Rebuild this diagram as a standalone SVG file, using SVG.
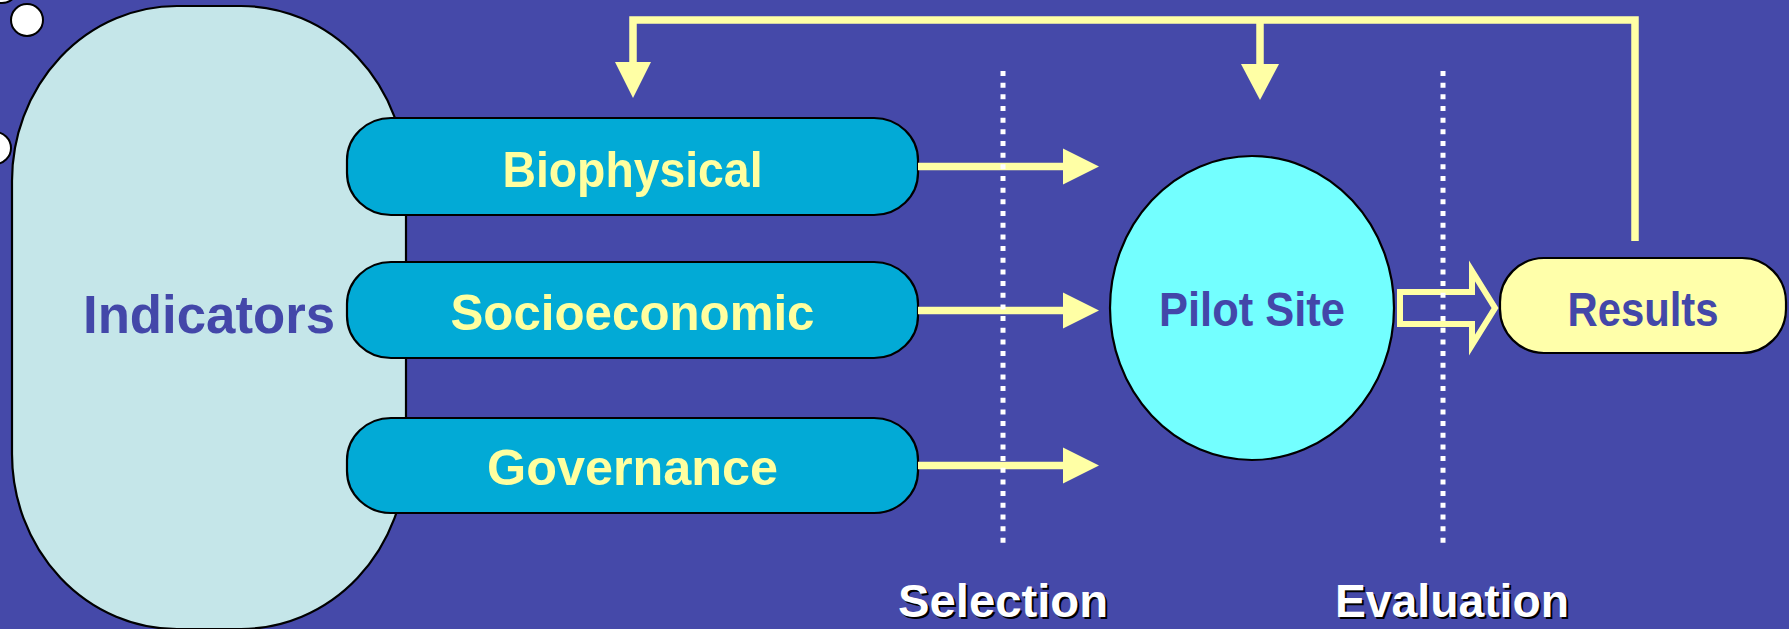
<svg xmlns="http://www.w3.org/2000/svg" width="1789" height="629" viewBox="0 0 1789 629">
  <style>
    .bg { fill: #4549A9; }
    .outline { stroke: #000; stroke-width: 2.2; }
    .dot { fill: #fff; stroke: #000; stroke-width: 2; }
    .box { fill: #02AAD6; stroke: #000; stroke-width: 2.2; }
    .boxtxt { font-family: "Liberation Sans", Arial, sans-serif; font-weight: bold; font-size: 50px; fill: #FFFFA0; text-anchor: middle; }
    .darktxt { font-family: "Liberation Sans", Arial, sans-serif; font-weight: bold; fill: #4347A9; text-anchor: middle; }
    .line { fill: none; stroke: #FFFFA5; stroke-width: 7.5; stroke-linejoin: miter; stroke-linecap: butt; }
    .head { fill: #FFFFA5; }
    .sep { stroke: #fff; stroke-width: 5; stroke-dasharray: 5 6.67; }
    .phase { font-family: "Liberation Sans", Arial, sans-serif; font-weight: bold; font-size: 47px; text-anchor: middle; }
  </style>
  <rect class="bg" x="0" y="0" width="1789" height="629"/>

  <g id="decor">
    <circle class="dot" cx="2" cy="-13" r="16"/>
    <circle class="dot" cx="27" cy="20" r="16"/>
    <circle class="dot" cx="-5" cy="148" r="16"/>
  </g>

  <g id="indicators">
    <rect class="outline" x="12" y="6" width="394" height="623" rx="165" ry="175" fill="#C5E6E9"/>
    <text class="darktxt" x="209" y="333" font-size="53" textLength="252" lengthAdjust="spacingAndGlyphs">Indicators</text>
  </g>

  <g id="biophysical">
    <rect class="box" x="347" y="118" width="571" height="97" rx="44" ry="42"/>
    <text class="boxtxt" x="632.5" y="187" textLength="260" lengthAdjust="spacingAndGlyphs">Biophysical</text>
  </g>
  <g id="socioeconomic">
    <rect class="box" x="347" y="262" width="571" height="96" rx="44" ry="42"/>
    <text class="boxtxt" x="632.5" y="330" textLength="364" lengthAdjust="spacingAndGlyphs">Socioeconomic</text>
  </g>
  <g id="governance">
    <rect class="box" x="347" y="418" width="571" height="95" rx="44" ry="42"/>
    <text class="boxtxt" x="632.5" y="485" textLength="291" lengthAdjust="spacingAndGlyphs">Governance</text>
  </g>

  <g id="pilot-site">
    <ellipse class="outline" cx="1252" cy="308" rx="142" ry="152" fill="#73FFFF"/>
    <text class="darktxt" x="1252" y="326" font-size="48" textLength="186" lengthAdjust="spacingAndGlyphs">Pilot Site</text>
  </g>

  <g id="results">
    <rect class="outline" x="1500" y="258" width="286" height="95" rx="44" ry="44" fill="#FFFFAA"/>
    <text class="darktxt" x="1643" y="326" font-size="48" textLength="151" lengthAdjust="spacingAndGlyphs">Results</text>
  </g>

  <g id="connectors">
    <polyline class="line" points="1635,241 1635,20 633,20 633,64"/>
    <polygon class="head" points="615,62 651,62 633,98"/>
    <line class="line" x1="1260" y1="20" x2="1260" y2="66"/>
    <polygon class="head" points="1241,64 1279,64 1260,100"/>
    <line class="line" x1="918" y1="166.5" x2="1065" y2="166.5"/>
    <polygon class="head" points="1063,148.5 1063,184.5 1099,166.5"/>
    <line class="line" x1="918" y1="310.5" x2="1065" y2="310.5"/>
    <polygon class="head" points="1063,292.5 1063,328.5 1099,310.5"/>
    <line class="line" x1="918" y1="465.5" x2="1065" y2="465.5"/>
    <polygon class="head" points="1063,447.5 1063,483.5 1099,465.5"/>
    <polygon points="1400,292 1472,292 1472,271 1495,308 1472,345 1472,324 1400,324" fill="none" stroke="#FFFFA5" stroke-width="6" stroke-linejoin="miter"/>
  </g>

  <g id="phases">
    <line class="sep" x1="1003" y1="71" x2="1003" y2="549"/>
    <line class="sep" x1="1443" y1="71" x2="1443" y2="549"/>
    <text class="phase" x="1005" y="619" fill="#000" textLength="210" lengthAdjust="spacingAndGlyphs">Selection</text>
    <text class="phase" x="1003" y="617" fill="#fff" textLength="210" lengthAdjust="spacingAndGlyphs">Selection</text>
    <text class="phase" x="1454" y="619" fill="#000" textLength="234" lengthAdjust="spacingAndGlyphs">Evaluation</text>
    <text class="phase" x="1452" y="617" fill="#fff" textLength="234" lengthAdjust="spacingAndGlyphs">Evaluation</text>
  </g>
</svg>
